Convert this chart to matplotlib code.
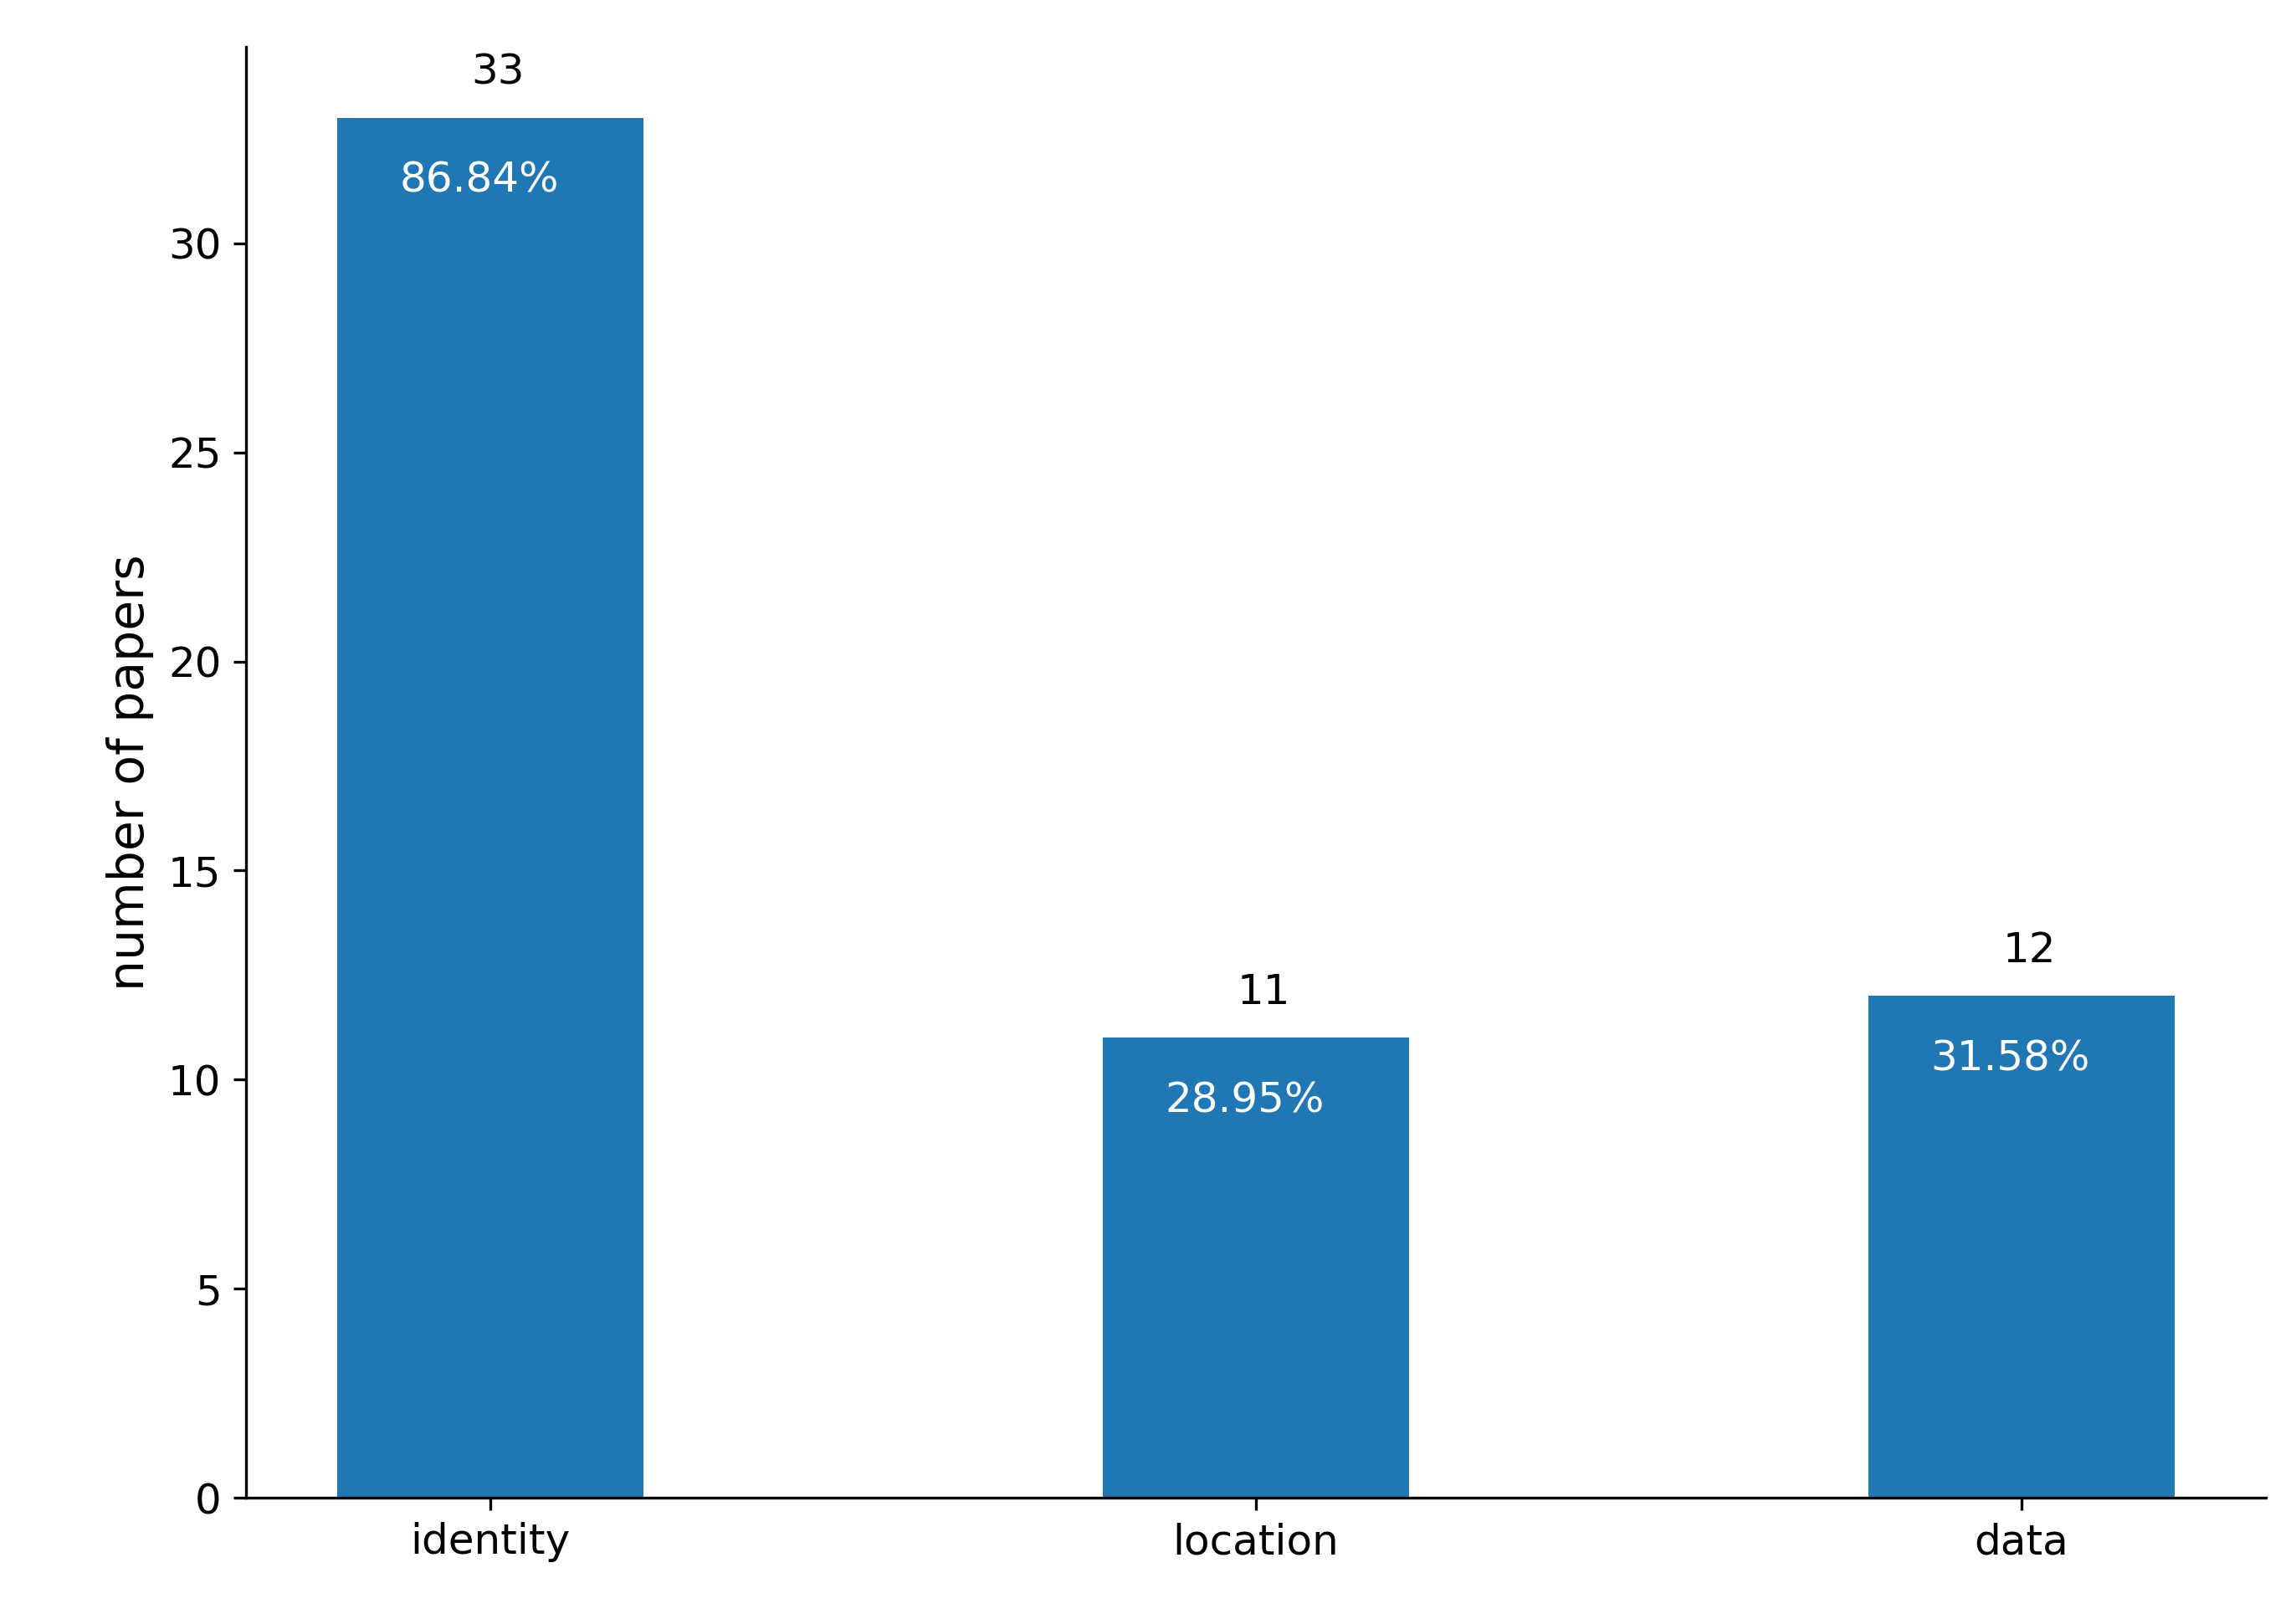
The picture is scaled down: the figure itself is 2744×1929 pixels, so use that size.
import matplotlib
matplotlib.use("Agg")
import matplotlib.pyplot as plt

categories = ["identity", "location", "data"]
counts = [33, 11, 12]
percents = ["86.84%", "28.95%", "31.58%"]

fig = plt.figure(figsize=(9.147, 6.43), dpi=300)
ax = fig.add_axes([0.107, 0.072, 0.88, 0.899])
x = list(range(len(categories)))
bars = ax.bar(x, counts, width=0.4, color="#1f77b4")
for xi, c, p in zip(x, counts, percents):
    ax.text(xi + 0.01, c + 0.6, str(c), ha="center", va="bottom", fontsize=12)
    ax.text(xi - 0.015, c - 1.5, p, ha="center", va="center", fontsize=12, color="white")
ax.set_xticks(x)
ax.set_xticklabels(categories, fontsize=12)
ax.tick_params(axis="y", labelsize=12)
ax.set_ylabel("number of papers", fontsize=14)
ax.set_ylim(0, 34.7)
ax.spines["top"].set_visible(False)
ax.spines["right"].set_visible(False)
fig.savefig("out.png", dpi=300)
